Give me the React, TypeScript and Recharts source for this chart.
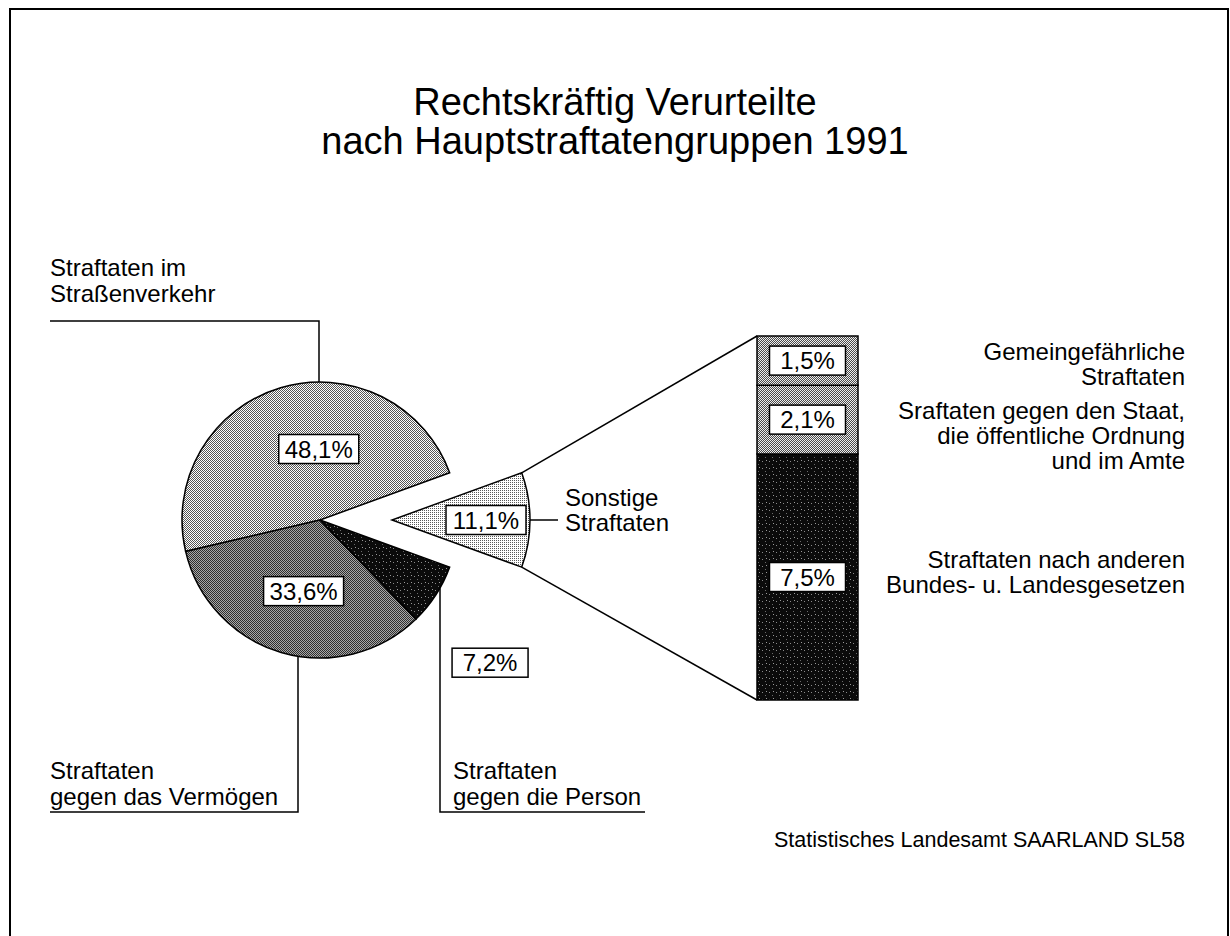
import { PieChart, Pie, Cell, BarChart, Bar, XAxis, YAxis } from "recharts";

// main breakdown (share of all convictions, %)
const sliceNames = ["Straßenverkehr", "Vermögen", "Person", "Sonstige"];
const sliceValues = [48.1, 33.6, 7.2, 11.1];
const sliceLabels = ["48,1%", "33,6%", "7,2%", "11,1%"];

// breakdown of "Sonstige Straftaten", bottom -> top
const otherKeys = ["andere", "staat", "gemein"];
const otherValues = [7.5, 2.1, 1.5];
const otherLabels = ["7,5%", "2,1%", "1,5%"];

const FONT = '"Liberation Sans", Arial, Helvetica, sans-serif';
const PIE_CX = 320;
const PIE_CY = 520;
const R = 138;
const EXPLODE = 72;
const START = 20;
const BAR_X = 757;
const BAR_Y = 336;
const BAR_W = 101;
const BAR_H = 364;
const PAD = 3;

const sliceFill: Record<string, string> = {
  Straßenverkehr: "url(#p48)",
  Vermögen: "url(#p33)",
  Person: "url(#pblack)",
  Sonstige: "url(#p11)",
};
const barFill: Record<string, string> = { andere: "url(#pblack)", staat: "url(#pbar)", gemein: "url(#pbar)" };

// where the % boxes sit: [radius, angle] from slice centre
const labelPolar: Record<string, [number, number]> = {
  Straßenverkehr: [71, 91],
  Vermögen: [73, 257],
  Person: [222, 320],
  Sonstige: [94, 0],
};

const total = sliceValues.reduce((a, b) => a + b, 0);
const sonstIdx = sliceNames.indexOf("Sonstige");
// the "Sonstige" slice is drawn by the exploded pie, so no label here
const mainData = sliceNames.map((name, i) => ({
  name,
  value: sliceValues[i],
  label: i === sonstIdx ? "" : sliceLabels[i],
}));
const explodedData = [
  { name: "rest", value: total - sliceValues[sonstIdx], label: "" },
  { name: "Sonstige", value: sliceValues[sonstIdx], label: sliceLabels[sonstIdx] },
];
const barRow: Record<string, number | string> = { name: "Sonstige" };
otherKeys.forEach((k, i) => (barRow[k] = otherValues[i]));
const barData = [barRow];
const barTotal = otherValues.reduce((a, b) => a + b, 0);

const rad = (d: number) => (d * Math.PI) / 180;

function Box({ x, y, text }: { x: number; y: number; text: string }) {
  const w = 60 + text.length * 4;
  const h = 29;
  return (
    <g>
      <rect x={x - w / 2} y={y - h / 2} width={w} height={h} fill="#fff" stroke="#000" strokeWidth={1.5} />
      <text x={x} y={y + 8.5} textAnchor="middle" fontSize={24} fontFamily={FONT} fill="#000">
        {text}
      </text>
    </g>
  );
}

function pieLabel(props: any) {
  const name = props.payload?.name ?? props.name;
  const text = props.payload?.label;
  if (!text) return null;
  const [r, a] = labelPolar[name];
  return <Box x={props.cx + r * Math.cos(rad(a))} y={props.cy - r * Math.sin(rad(a))} text={text} />;
}

function T({ x, y, children, anchor = "start", size = 24 }: any) {
  return (
    <text x={x} y={y} textAnchor={anchor} fontSize={size} fontFamily={FONT} fill="#000">
      {children}
    </text>
  );
}

function Patterns() {
  return (
    <defs>
      <pattern id="p48" patternUnits="userSpaceOnUse" width={2} height={2}>
        <rect width={2} height={2} fill="#fff" />
        <rect x={0} y={0} width={1} height={1} fill="#555" />
        <rect x={1} y={1} width={1} height={1} fill="#555" />
      </pattern>
      <pattern id="p33" patternUnits="userSpaceOnUse" width={2} height={2}>
        <rect width={2} height={2} fill="#a8a8a8" />
        <rect x={0} y={0} width={1} height={1} fill="#2e2e2e" />
        <rect x={1} y={1} width={1} height={1} fill="#2e2e2e" />
      </pattern>
      <pattern id="p11" patternUnits="userSpaceOnUse" width={2} height={2}>
        <rect width={2} height={2} fill="#fff" />
        <rect x={0} y={0} width={1} height={1} fill="#5a5a5a" />
      </pattern>
      <pattern id="pbar" patternUnits="userSpaceOnUse" width={2} height={2}>
        <rect width={2} height={2} fill="#eee" />
        <rect x={0} y={0} width={1} height={1} fill="#4a4a4a" />
        <rect x={1} y={1} width={1} height={1} fill="#4a4a4a" />
      </pattern>
      <pattern id="pblack" patternUnits="userSpaceOnUse" width={7} height={7}>
        <rect width={7} height={7} fill="#0b0b0b" />
        <rect x={1} y={2} width={1} height={1} fill="#8a8a8a" />
        <rect x={4} y={5} width={1} height={1} fill="#6a6a6a" />
        <rect x={5} y={1} width={1} height={1} fill="#9a9a9a" />
      </pattern>
    </defs>
  );
}

export default function App() {
  // geometry for leader lines
  const ex = PIE_CX + EXPLODE;
  const endA = START - (sliceValues[sonstIdx] / total) * 360;
  const upper = { x: ex + R * Math.cos(rad(START)), y: PIE_CY - R * Math.sin(rad(START)) };
  const lower = { x: ex + R * Math.cos(rad(endA)), y: PIE_CY - R * Math.sin(rad(endA)) };
  const onCircleBelow = (x: number) => PIE_CY + Math.sqrt(R * R - (x - PIE_CX) ** 2);
  const onCircleAbove = (x: number) => PIE_CY - Math.sqrt(R * R - (x - PIE_CX) ** 2);

  return (
    <div style={{ position: "absolute", left: 0, top: 0, width: 1230, height: 936, background: "#fff" }}>
      <div style={{ position: "absolute", left: 0, top: 0 }}>
        <PieChart width={1230} height={936} margin={{ top: 0, right: 0, bottom: 0, left: 0 }}>
          <Patterns />
          <Pie
            data={mainData}
            dataKey="value"
            cx={PIE_CX}
            cy={PIE_CY}
            outerRadius={R}
            startAngle={START}
            endAngle={START + 360}
            isAnimationActive={false}
            label={pieLabel}
            labelLine={false}
          >
            {mainData.map((d, i) => (
              <Cell
                key={i}
                fill={i === sonstIdx ? "none" : sliceFill[d.name]}
                stroke={i === sonstIdx ? "none" : "#000"}
                strokeWidth={1.5}
              />
            ))}
          </Pie>
          <Pie
            data={explodedData}
            dataKey="value"
            cx={ex}
            cy={PIE_CY}
            outerRadius={R}
            startAngle={START}
            endAngle={START + 360}
            isAnimationActive={false}
            label={pieLabel}
            labelLine={false}
          >
            {explodedData.map((d, i) => (
              <Cell
                key={i}
                fill={i === 0 ? "none" : sliceFill[d.name]}
                stroke={i === 0 ? "none" : "#000"}
                strokeWidth={1.5}
              />
            ))}
          </Pie>
        </PieChart>
      </div>

      <div style={{ position: "absolute", left: BAR_X - PAD, top: BAR_Y - PAD }}>
        <BarChart
          width={BAR_W + 2 * PAD}
          height={BAR_H + 2 * PAD}
          data={barData}
          margin={{ top: PAD, right: PAD, bottom: PAD, left: PAD }}
          barCategoryGap={0}
        >
          <Patterns />
          <XAxis dataKey="name" hide />
          <YAxis hide type="number" domain={[0, barTotal]} />
          {otherKeys.map((k, i) => (
            <Bar
              key={k}
              dataKey={k}
              stackId="s"
              fill={barFill[k]}
              stroke="#000"
              strokeWidth={1.5}
              isAnimationActive={false}
              label={(p: any) => (
                <Box x={p.x + p.width / 2} y={p.y + p.height / 2} text={otherLabels[i]} />
              )}
            />
          ))}
        </BarChart>
      </div>

      <svg
        width={1230}
        height={936}
        style={{ position: "absolute", left: 0, top: 0, pointerEvents: "none" }}
      >
        <rect x={10} y={9} width={1218} height={960} fill="none" stroke="#000" strokeWidth={2} />

        <T x={615} y={115} anchor="middle" size={38}>Rechtskräftig Verurteilte</T>
        <T x={615} y={154} anchor="middle" size={38}>nach Hauptstraftatengruppen 1991</T>

        {/* Straßenverkehr */}
        <T x={50} y={276}>Straftaten im</T>
        <T x={50} y={302}>Straßenverkehr</T>
        <polyline
          points={`50,321 319,321 319,${onCircleAbove(319)}`}
          fill="none"
          stroke="#000"
          strokeWidth={1.5}
        />

        {/* Vermögen */}
        <T x={50} y={779}>Straftaten</T>
        <T x={50} y={805}>gegen das Vermögen</T>
        <polyline
          points={`50,812 298,812 298,${onCircleBelow(298)}`}
          fill="none"
          stroke="#000"
          strokeWidth={1.5}
        />

        {/* Person */}
        <T x={453} y={779}>Straftaten</T>
        <T x={453} y={805}>gegen die Person</T>
        <polyline
          points={`645,812 440,812 440,${onCircleBelow(440)}`}
          fill="none"
          stroke="#000"
          strokeWidth={1.5}
        />

        {/* Sonstige */}
        <line x1={ex + R} y1={PIE_CY} x2={558} y2={PIE_CY} stroke="#000" strokeWidth={1.5} />
        <T x={565} y={506}>Sonstige</T>
        <T x={565} y={531}>Straftaten</T>

        {/* zoom lines to the bar */}
        <line x1={upper.x} y1={upper.y} x2={BAR_X} y2={BAR_Y} stroke="#000" strokeWidth={1.5} />
        <line x1={lower.x} y1={lower.y} x2={BAR_X} y2={BAR_Y + BAR_H} stroke="#000" strokeWidth={1.5} />

        {/* right labels */}
        <T x={1185} y={360} anchor="end">Gemeingefährliche</T>
        <T x={1185} y={385} anchor="end">Straftaten</T>
        <T x={1185} y={419} anchor="end">Sraftaten gegen den Staat,</T>
        <T x={1185} y={444} anchor="end">die öffentliche Ordnung</T>
        <T x={1185} y={469} anchor="end">und im Amte</T>
        <T x={1185} y={568} anchor="end">Straftaten nach anderen</T>
        <T x={1185} y={593} anchor="end">Bundes- u. Landesgesetzen</T>

        <T x={1185} y={847} anchor="end" size={21.5}>Statistisches Landesamt SAARLAND SL58</T>
      </svg>
    </div>
  );
}
